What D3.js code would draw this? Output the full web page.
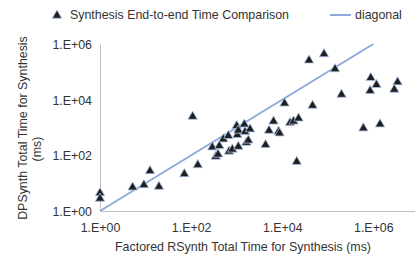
<!DOCTYPE html>
<html>
<head>
<meta charset="utf-8">
<script src="https://cdn.jsdelivr.net/npm/d3@7"></script>
<style>
html,body{margin:0;padding:0;background:#fff;}
svg{display:block;}
text{font-family:"Liberation Sans",Arial,sans-serif;fill:#333;}
</style>
</head>
<body>
<svg id="chart" width="415" height="262"></svg>
<script>
// Factored RSynth total time (ms)
const rsynthTime = [1.0, 1.0, 5.2, 9.2, 12.5, 19.7, 71, 140, 108, 292, 347, 390, 416, 509, 656, 679, 803, 1002, 1033, 1087, 1087, 1472, 1525, 1629, 1802, 1963, 4300, 5130, 6440, 8300, 8730, 11230, 14840, 17700, 22800, 20800, 38700, 82700, 144000, 46300, 200000, 604000, 1400000, 877000, 1170000, 847000, 3400000, 2880000];
// DPSynth total time (ms)
const dpsynthTime = [4.4, 2.8, 7.1, 8.6, 27.5, 7.5, 21.4, 45, 2470, 196, 90, 108, 218, 379, 499, 138, 163, 1142, 542, 206, 787, 1294, 695, 286, 344, 869, 237, 773, 1657, 712, 624, 7360, 1463, 1657, 2126, 59, 259000, 437000, 126000, 6130, 15250, 944, 1315, 60800, 34100, 20700, 42600, 23100];
const diagonalX = [1, 1000000];
const diagonalY = [1, 1000000];
const tickValues = [1, 100, 10000, 1000000];
const tickLabels = ["1.E+00", "1.E+02", "1.E+04", "1.E+06"];
const seriesName = "Synthesis End-to-end Time Comparison";
const lineName = "diagonal";
const xTitle = "Factored RSynth Total Time for Synthesis (ms)";
const yTitleLines = ["DPSynth Total  Time for Synthesis", "(ms)"];

const svg = d3.select("#chart");
const x = d3.scaleLog().domain([1, 1e7]).range([100, 418.9]);
const y = d3.scaleLog().domain([1, 1e6]).range([211, 44]);

const axisColor = "#bfbfbf";
const lineColor = "#8eaadb";
const markFill = "#1f1f1f";
const markStroke = "#a9c1e6";
const fs = 12.4;

// axes
const xAxis = d3.axisBottom(x).tickValues(tickValues).tickSize(0)
  .tickFormat((d, i) => tickLabels[i]);
const gx = svg.append("g").attr("transform", "translate(0,211)").call(xAxis);
gx.select(".domain").attr("stroke", axisColor).attr("stroke-width", 1);
gx.selectAll("text").attr("dy", "0").attr("y", 21).attr("font-size", fs).style("fill", "#333")
  .attr("font-family", "Liberation Sans, Arial, sans-serif");

const yAxis = d3.axisLeft(y).tickValues(tickValues).tickSize(0)
  .tickFormat((d, i) => tickLabels[i]);
const gy = svg.append("g").attr("transform", "translate(100,0)").call(yAxis);
gy.select(".domain").attr("stroke", axisColor).attr("stroke-width", 1);
gy.selectAll("text").attr("x", -8).attr("dy", "0.35em").attr("font-size", fs).style("fill", "#333")
  .attr("font-family", "Liberation Sans, Arial, sans-serif");

// diagonal line
const diag = diagonalX.map((d, i) => [d, diagonalY[i]]);
svg.append("path")
  .datum(diag)
  .attr("fill", "none")
  .attr("stroke", lineColor)
  .attr("stroke-width", 2)
  .attr("d", d3.line().x(d => x(d[0])).y(d => y(d[1])));

// triangles
const tri = d3.symbol().type(d3.symbolTriangle).size(38);
svg.append("g").selectAll("path")
  .data(rsynthTime.map((d, i) => [d, dpsynthTime[i]]))
  .join("path")
  .attr("d", tri)
  .attr("transform", d => `translate(${x(d[0])},${y(d[1])})`)
  .attr("fill", markFill)
  .attr("stroke", markStroke)
  .attr("stroke-width", 0.8);

// legend
svg.append("path").attr("d", tri).attr("transform", "translate(57,15.5)")
  .attr("fill", markFill).attr("stroke", markStroke).attr("stroke-width", 0.8);
svg.append("text").attr("x", 70).attr("y", 15).attr("dy", "0.35em").attr("font-size", fs).text(seriesName);
svg.append("line").attr("x1", 330).attr("x2", 351).attr("y1", 15).attr("y2", 15)
  .attr("stroke", lineColor).attr("stroke-width", 2);
svg.append("text").attr("x", 355).attr("y", 15).attr("dy", "0.35em").attr("font-size", fs).text(lineName);

// axis titles
svg.append("text").attr("x", 243).attr("y", 247).attr("dy", "0.35em")
  .attr("text-anchor", "middle").attr("font-size", fs).text(xTitle);
const yt = svg.append("text").attr("transform", "translate(23,128) rotate(-90)")
  .attr("text-anchor", "middle").attr("font-size", fs);
yt.append("tspan").attr("x", 0).attr("y", 0).attr("dy", "0.35em").text(yTitleLines[0]);
svg.append("text").attr("transform", "translate(37,149) rotate(-90)")
  .attr("text-anchor", "middle").attr("font-size", fs).attr("dy", "0.35em").text(yTitleLines[1]);
</script>
</body>
</html>
